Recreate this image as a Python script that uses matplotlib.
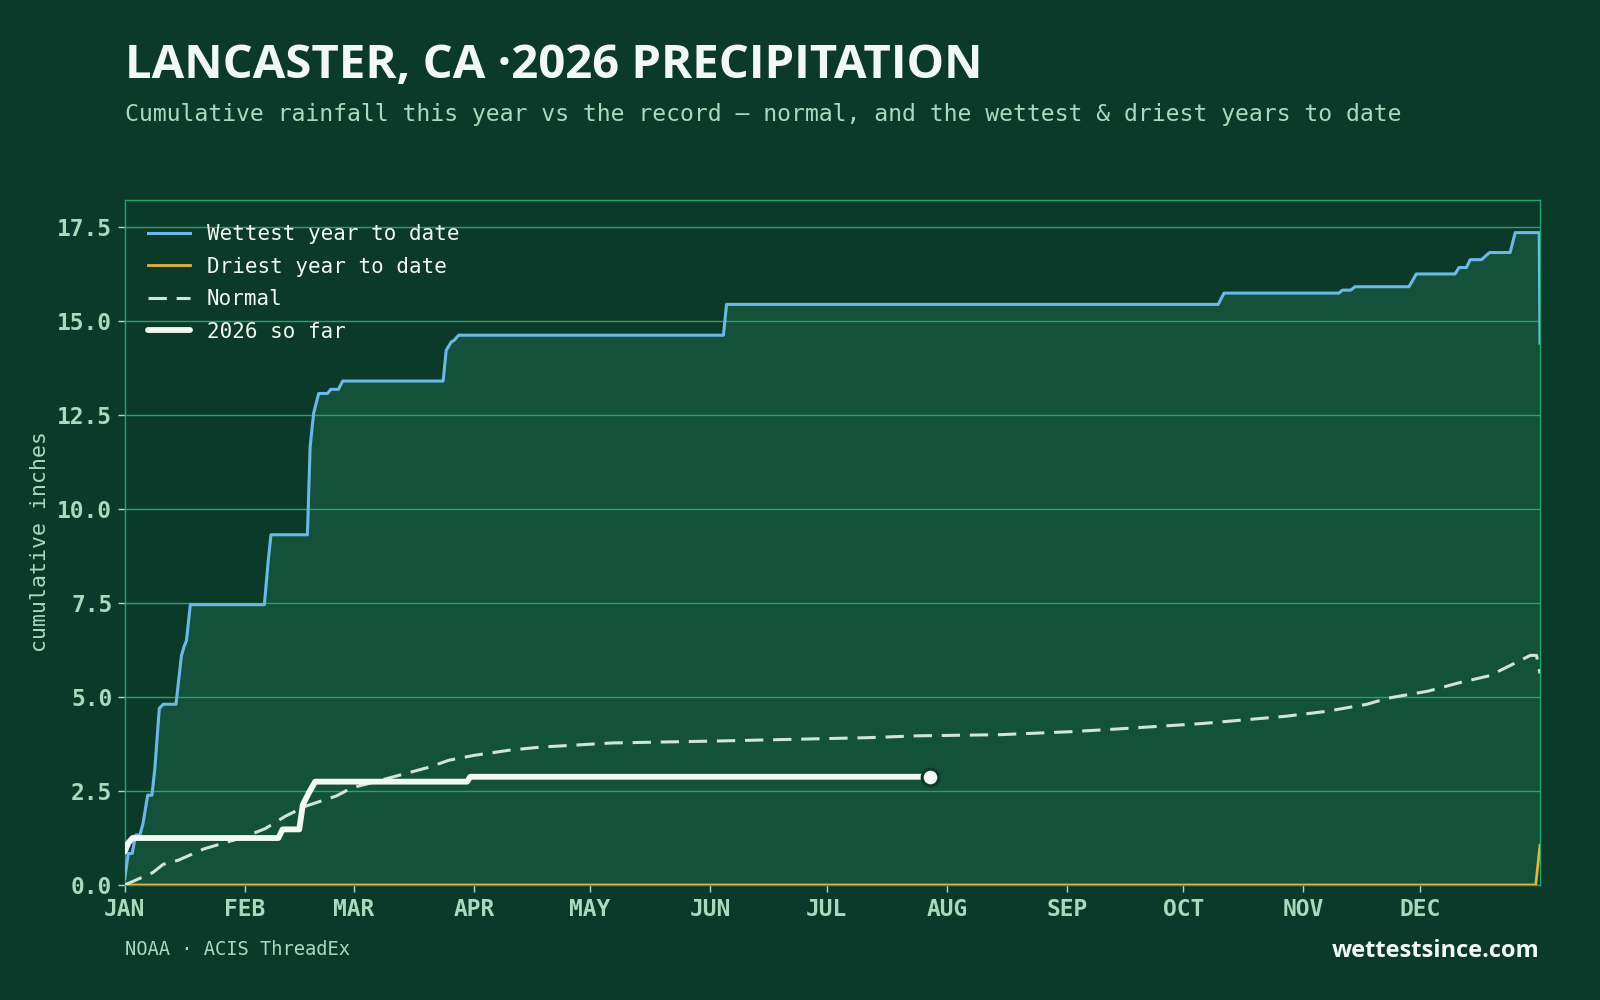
"""
Lancaster, CA - cumulative precipitation this year vs normal and the
wettest / driest years to date.
"""

import numpy as np
import matplotlib
matplotlib.use("Agg")
import matplotlib.pyplot as plt

# ── colours ──────────────────────────────────────────────────────────────
BG      = "#0c3a2a"
FILL    = "#14513a"
GRID    = "#22a56a"
MINT    = "#a6dcbe"
WHITE   = "#f2f8f3"
BLUE    = "#6cb9e8"
GOLD    = "#e2b441"
NORMAL  = "#cfe5d6"

# ── data (day of year, cumulative inches) ────────────────────────────────
month_days   = [0, 31, 59, 90, 120, 151, 181, 212, 243, 273, 304, 334]
month_labels = ["JAN", "FEB", "MAR", "APR", "MAY", "JUN",
                "JUL", "AUG", "SEP", "OCT", "NOV", "DEC"]

wet_days = [0, 0.9, 1.9, 2.8, 3.9, 4.7, 5.9, 7.0, 7.75, 8.9, 9.9, 13.2,
            14.6, 15.3, 15.9, 16.9, 36.0, 37.0, 37.7, 47.1, 47.8, 48.7,
            50.0, 52.3, 53.1, 55.1, 56.2, 82.1, 82.9, 84.2, 85.0, 86.1,
            154.4, 155.2, 282.0, 283.5, 313.1, 314.1, 316.2, 317.3, 331.2,
            333.1, 343.1, 344.1, 346.0, 347.0, 349.9, 352.0, 357.3, 358.6,
            364.8, 365.0]
wet_vals = [0.18, 0.84, 0.84, 1.33, 1.33, 1.64, 2.39, 2.39, 3.1, 4.7, 4.81,
            4.81, 6.1, 6.35, 6.5, 7.46, 7.46, 8.64, 9.32, 9.32, 11.66, 12.55,
            13.08, 13.08, 13.19, 13.19, 13.41, 13.41, 14.23, 14.45, 14.5,
            14.63, 14.63, 15.45, 15.45, 15.75, 15.75, 15.83, 15.83, 15.92,
            15.92, 16.26, 16.26, 16.43, 16.43, 16.64, 16.64, 16.83, 16.83,
            17.36, 17.36, 14.42]

dry_days = [0, 363.9, 365.0]
dry_vals = [0.0, 0.0, 1.06]

norm_days = [0, 7.2, 9.9, 13.8, 20.4, 30.9, 36.2, 41.4, 46.7, 54.6, 58.6,
             62.5, 70.4, 78.3, 83.6, 90.1, 99.4, 107.3, 125.7, 152.0, 191.5,
             204.6, 225.7, 244.1, 257.3, 278.3, 299.4, 309.9, 320.4, 325.7,
             336.2, 344.1, 352.0, 357.3, 362.5, 364.1, 365.0]
norm_vals = [0.0, 0.33, 0.55, 0.66, 0.96, 1.28, 1.5, 1.83, 2.1, 2.37, 2.59,
             2.69, 2.91, 3.13, 3.32, 3.45, 3.59, 3.67, 3.78, 3.83, 3.92,
             3.97, 4.0, 4.08, 4.16, 4.3, 4.49, 4.62, 4.81, 4.97, 5.16, 5.38,
             5.57, 5.84, 6.11, 6.11, 5.63]

cur_days = [0, 0.9, 2.0, 39.6, 40.7, 45.0, 45.9, 47.4, 49.1, 88.3, 89.1, 207.6]
cur_vals = [0.89, 1.12, 1.25, 1.25, 1.48, 1.48, 2.13, 2.44, 2.75, 2.75,
            2.88, 2.88]

y_ticks = [0.0, 2.5, 5.0, 7.5, 10.0, 12.5, 15.0, 17.5]

MONO = "DejaVu Sans Mono"


def main():
    fig = plt.figure(figsize=(16, 10), dpi=100, facecolor=BG)
    ax = fig.add_axes([0.078, 0.115, 0.8845, 0.685], facecolor=BG)

    # band between driest and wettest, on the union of both day grids
    band_x = np.union1d(wet_days, dry_days)
    band_lo = np.interp(band_x, dry_days, dry_vals)
    band_hi = np.interp(band_x, wet_days, wet_vals)
    ax.fill_between(band_x, band_lo, band_hi, color=FILL, lw=0, zorder=1)

    ax.plot(wet_days, wet_vals, color=BLUE, lw=2.2, label="Wettest year to date",
            zorder=3)
    ax.plot(dry_days, dry_vals, color=GOLD, lw=2.0, label="Driest year to date",
            zorder=3)
    ax.plot(norm_days, norm_vals, color=NORMAL, lw=2.2, dashes=(6.0, 3.2),
            label="Normal", zorder=3)
    ax.plot(cur_days, cur_vals, color=WHITE, lw=4.2, label="2026 so far",
            solid_capstyle="round", solid_joinstyle="round", zorder=4)
    ax.plot(cur_days[-1:], cur_vals[-1:], "o", ms=12, mfc=WHITE, mec=BG,
            mew=2.2, zorder=5)

    ax.set_xlim(0, 365)
    ax.set_ylim(0, max(wet_vals) * 1.05)
    ax.set_xticks(month_days)
    ax.set_xticklabels(month_labels)
    ax.set_yticks(y_ticks)
    ax.set_yticklabels([f"{v:.1f}" for v in y_ticks])
    ax.tick_params(colors=MINT, length=5, width=1, pad=4)
    for lab in ax.get_xticklabels() + ax.get_yticklabels():
        lab.set_fontfamily(MONO)
        lab.set_fontweight("bold")
        lab.set_fontsize(16.5)
        lab.set_color(MINT)

    ax.set_axisbelow("line")
    ax.grid(True, axis="y", color=GRID, lw=1.0)
    for sp in ax.spines.values():
        sp.set_color(GRID)
        sp.set_linewidth(1.0)

    fig.text(0.025, 0.459, "cumulative inches", rotation=90, ha="center",
             va="center", family=MONO, fontsize=15.5, color=MINT)

    leg = ax.legend(loc="upper left", frameon=False, prop={"family": MONO, "size": 15},
                    handlelength=2.0, handletextpad=0.8, labelspacing=0.6,
                    bbox_to_anchor=(0.002, 0.995), borderaxespad=0.6)
    for t in leg.get_texts():
        t.set_color(WHITE)

    # titles and footer
    fig.text(0.078, 0.9225, "LANCASTER, CA ·2026 PRECIPITATION", family="Open Sans",
             fontweight="bold", fontsize=34, color=WHITE, va="baseline")
    fig.text(0.078, 0.8795,
             "Cumulative rainfall this year vs the record — normal, and the "
             "wettest & driest years to date",
             family=MONO, fontsize=16.65, color=MINT, va="baseline")
    fig.text(0.078, 0.045, "NOAA · ACIS ThreadEx", family=MONO, fontsize=13.5,
             color=MINT, va="baseline")
    fig.text(0.962, 0.043, "wettestsince.com", family="Open Sans", fontweight="bold",
             fontsize=17, color=WHITE, va="baseline", ha="right")

    fig.savefig("out.png", dpi=100, facecolor=BG)
    plt.close(fig)


if __name__ == "__main__":
    main()
